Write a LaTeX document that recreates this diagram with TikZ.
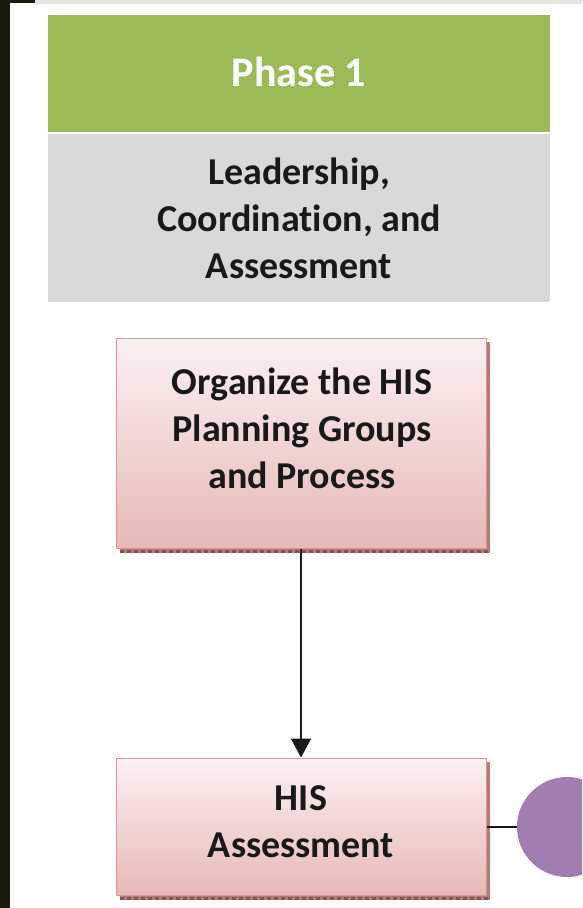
\documentclass[tikz,border=0pt]{standalone}
\usepackage{fontspec}
\setmainfont{Carlito}[Ligatures=NoCommon]
\usetikzlibrary{arrows.meta}
\definecolor{phasegreen}{HTML}{9BBB59}
\definecolor{boxgrey}{HTML}{D9D9D9}
\definecolor{pinktop}{HTML}{FCF1F1}
\definecolor{pinkbot}{HTML}{E6B8B7}
\definecolor{pinkedge}{HTML}{D99694}
\definecolor{pinkshadow}{HTML}{B87878}
\definecolor{circpurple}{HTML}{A17DB1}
\definecolor{darkstrip}{HTML}{1A1A0E}
\definecolor{topband}{HTML}{E8E6E0}
\tikzset{
  bigtext/.style={font=\bfseries\fontsize{38}{47}\selectfont, align=center, inner sep=0pt},
  flatbox/.style={rectangle, inner sep=0pt, draw=none},
  pinkbox/.style={rectangle, inner sep=0pt, draw=pinkedge, line width=1pt, top color=pinktop, bottom color=pinkbot},
  conn/.style={line width=2pt, color=black!90}
}
\begin{document}
\begin{tikzpicture}[x=1pt,y=-1pt]
\useasboundingbox (0,0) rectangle (582,908);
\clip (0,0) rectangle (582,908);
\fill[white] (0,0) rectangle (582,908);
% frame details
\fill[topband] (35,0) rectangle (582,4);
\fill[darkstrip] (0,0) rectangle (10,908);
\fill[darkstrip] (0,0) rectangle (35,3);
% phase header
\node[flatbox, fill=phasegreen, minimum width=502, minimum height=117] (phase) at (299,73.5) {};
\node[bigtext, text=white, font=\bfseries\fontsize{42}{50}\selectfont] (phasetxt) at (299,72) {Phase 1};
\node[flatbox, fill=boxgrey, minimum width=502, minimum height=168] (lead) at (299,218) {};
\node[bigtext, text=black!90] (leadtxt) at (299,218) {Leadership,\\Coordination, and\\Assessment};
% pink box 1 with shadow
\fill[pinkshadow] (120,342) rectangle (490,553);
\draw[pinkshadow!70!black, line width=3pt, dash pattern=on 4pt off 3pt] (120,551) -- (490,551);
\node[pinkbox, minimum width=370, minimum height=210] (org) at (301,443) {};
\node[bigtext, text=black!90] (orgtxt) at (302,428) {Organize the HIS\\Planning Groups\\and Process};
% pink box 2 with shadow
\fill[pinkshadow] (120,762) rectangle (490,900);
\draw[pinkshadow!70!black, line width=3pt, dash pattern=on 4pt off 3pt] (120,898) -- (490,898);
\node[pinkbox, minimum width=370, minimum height=137] (assess) at (301,826.5) {};
\node[bigtext, text=black!90] (assesstxt) at (301,822) {HIS\\Assessment};
% purple circle
\node[circle, fill=circpurple, minimum size=100, inner sep=0pt] (circ) at (567,827) {};
% connectors
\draw[conn, -{Triangle[width=20pt,length=19pt]}] (org.south) -- (assess.north);
\draw[conn] (assess.east |- circ.west) -- (circ.west);
\end{tikzpicture}
\end{document}
